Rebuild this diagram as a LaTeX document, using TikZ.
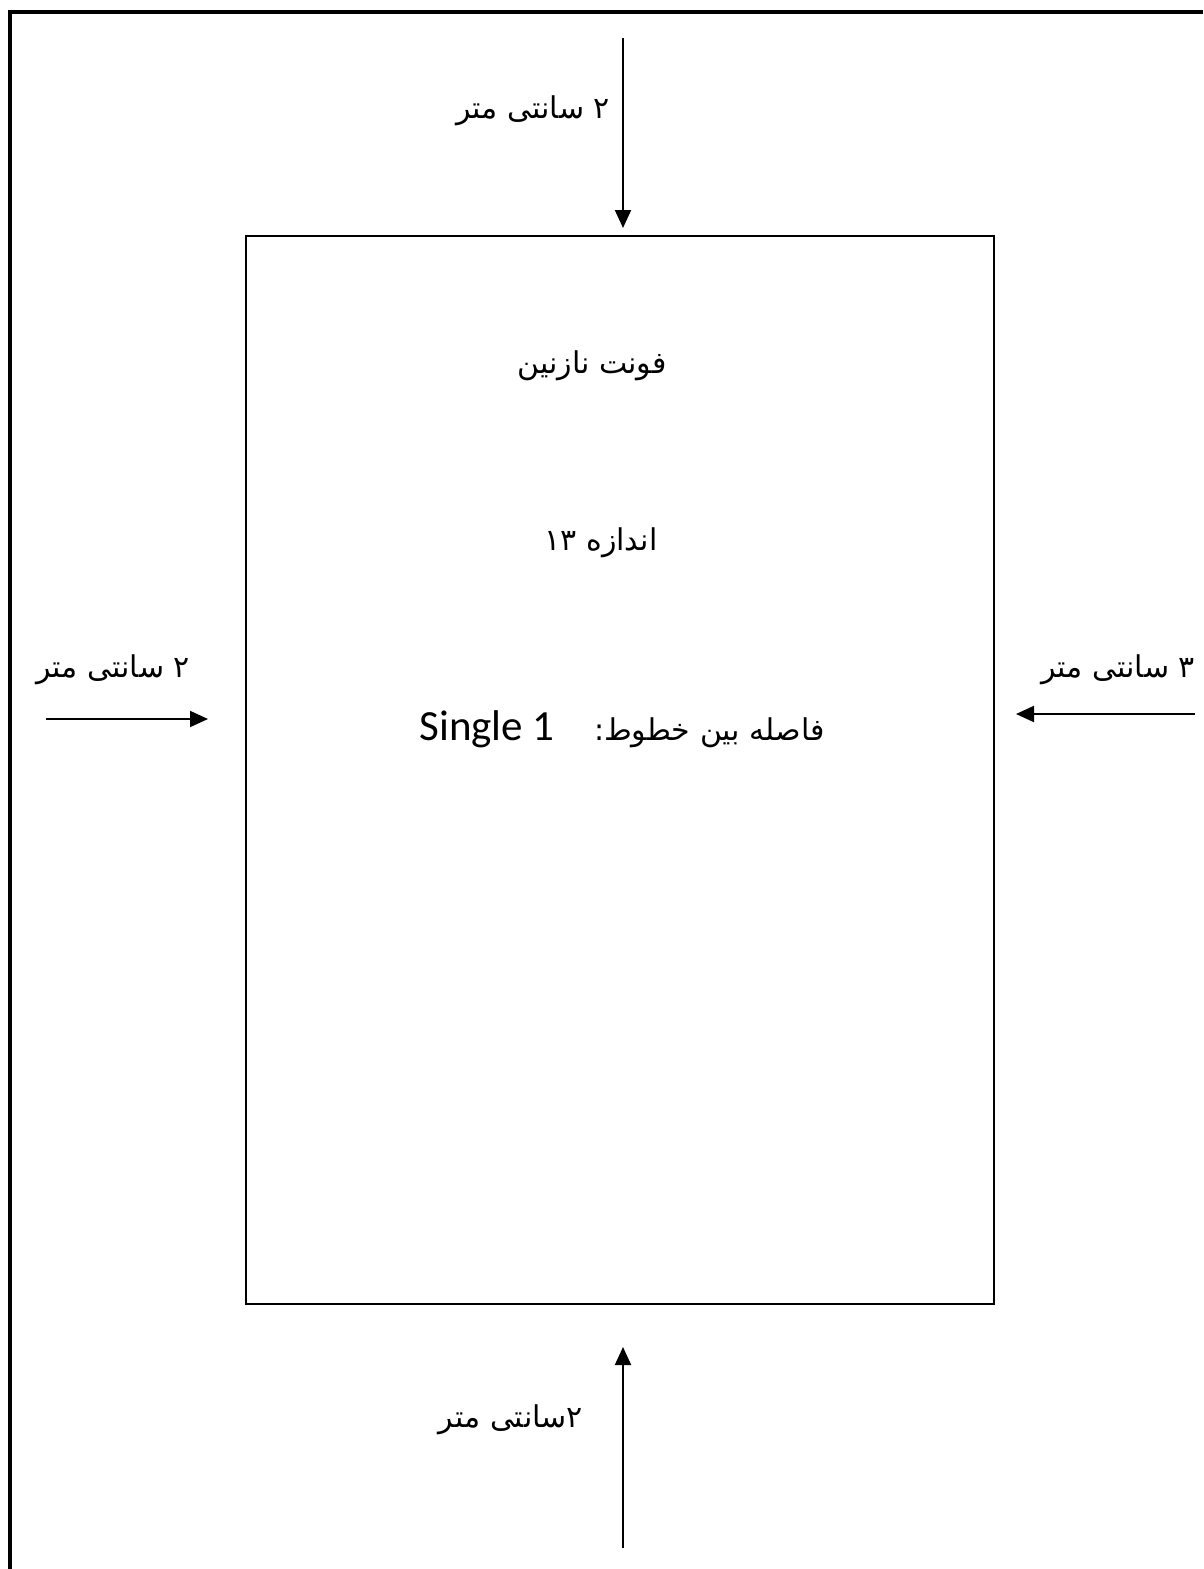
\documentclass[tikz,border=0pt]{standalone}
\usepackage{fontspec}
\setmainfont{Carlito}
\newfontfamily\arabicfont[Script=Arabic]{DejaVu Sans}
\TeXXeTstate=1
\usetikzlibrary{arrows.meta}
\begin{document}
\begin{tikzpicture}[x=1pt,y=-1pt,
  frame/.style={line width=4pt, draw=black},
  page/.style={draw, line width=1.6pt, inner sep=0pt, minimum width=748pt, minimum height=1068pt},
  dim/.style={line width=2pt, -{Triangle[length=18pt,width=16pt]}},
  ar/.style={font=\arabicfont\fontsize{30}{36}\selectfont, inner sep=0pt},
  lat/.style={font=\fontsize{43}{50}\selectfont, inner sep=0pt}]
\useasboundingbox (0,0) rectangle (1203,1569);
\fill[white] (0,0) rectangle (1203,1569);
\coordinate (fbl) at (10,1569);
\coordinate (ftl) at (10,10);
\coordinate (ftl2) at (8,12);
\coordinate (ftr) at (1203,12);
\draw[frame] (fbl) -- (ftl);
\draw[frame] (ftl2) -- (ftr);
\node[page, anchor=north west] (page) at (245,235) {};
% arrows
\coordinate (ttail) at (623,38);
\coordinate (thead) at (623,228);
\coordinate (ltail) at (46,719);
\coordinate (lhead) at (208,719);
\coordinate (rtail) at (1195,714);
\coordinate (rhead) at (1016,714);
\coordinate (btail) at (623,1548);
\coordinate (bhead) at (623,1347);
\draw[dim] (ttail) -- (thead);
\draw[dim] (ltail) -- (lhead);
\draw[dim] (rtail) -- (rhead);
\draw[dim] (btail) -- (bhead);
% labels
\node[ar, anchor=base east] (toplab) at (610,118) {\beginR ۲ سانتی متر\endR};
\node[ar, anchor=base east] (leftlab) at (190,677) {\beginR ۲ سانتی متر\endR};
\node[ar, anchor=base east] (rightlab) at (1195,677) {\beginR ۳ سانتی متر\endR};
\node[ar, anchor=base east] (botlab) at (583,1427) {\beginR ۲سانتی متر\endR};
% page content
\node[ar, anchor=base] (font) at (592,373) {\beginR فونت نازنین\endR};
\node[ar, anchor=base] (size) at (601,550) {\beginR اندازه \beginL ۱۳\endL\endR};
\node[ar, anchor=base east] (spacing) at (825,740) {\beginR فاصله بین خطوط:\endR};
\node[lat, anchor=base east] (single) at (555,740) {Single 1};
\end{tikzpicture}
\end{document}
